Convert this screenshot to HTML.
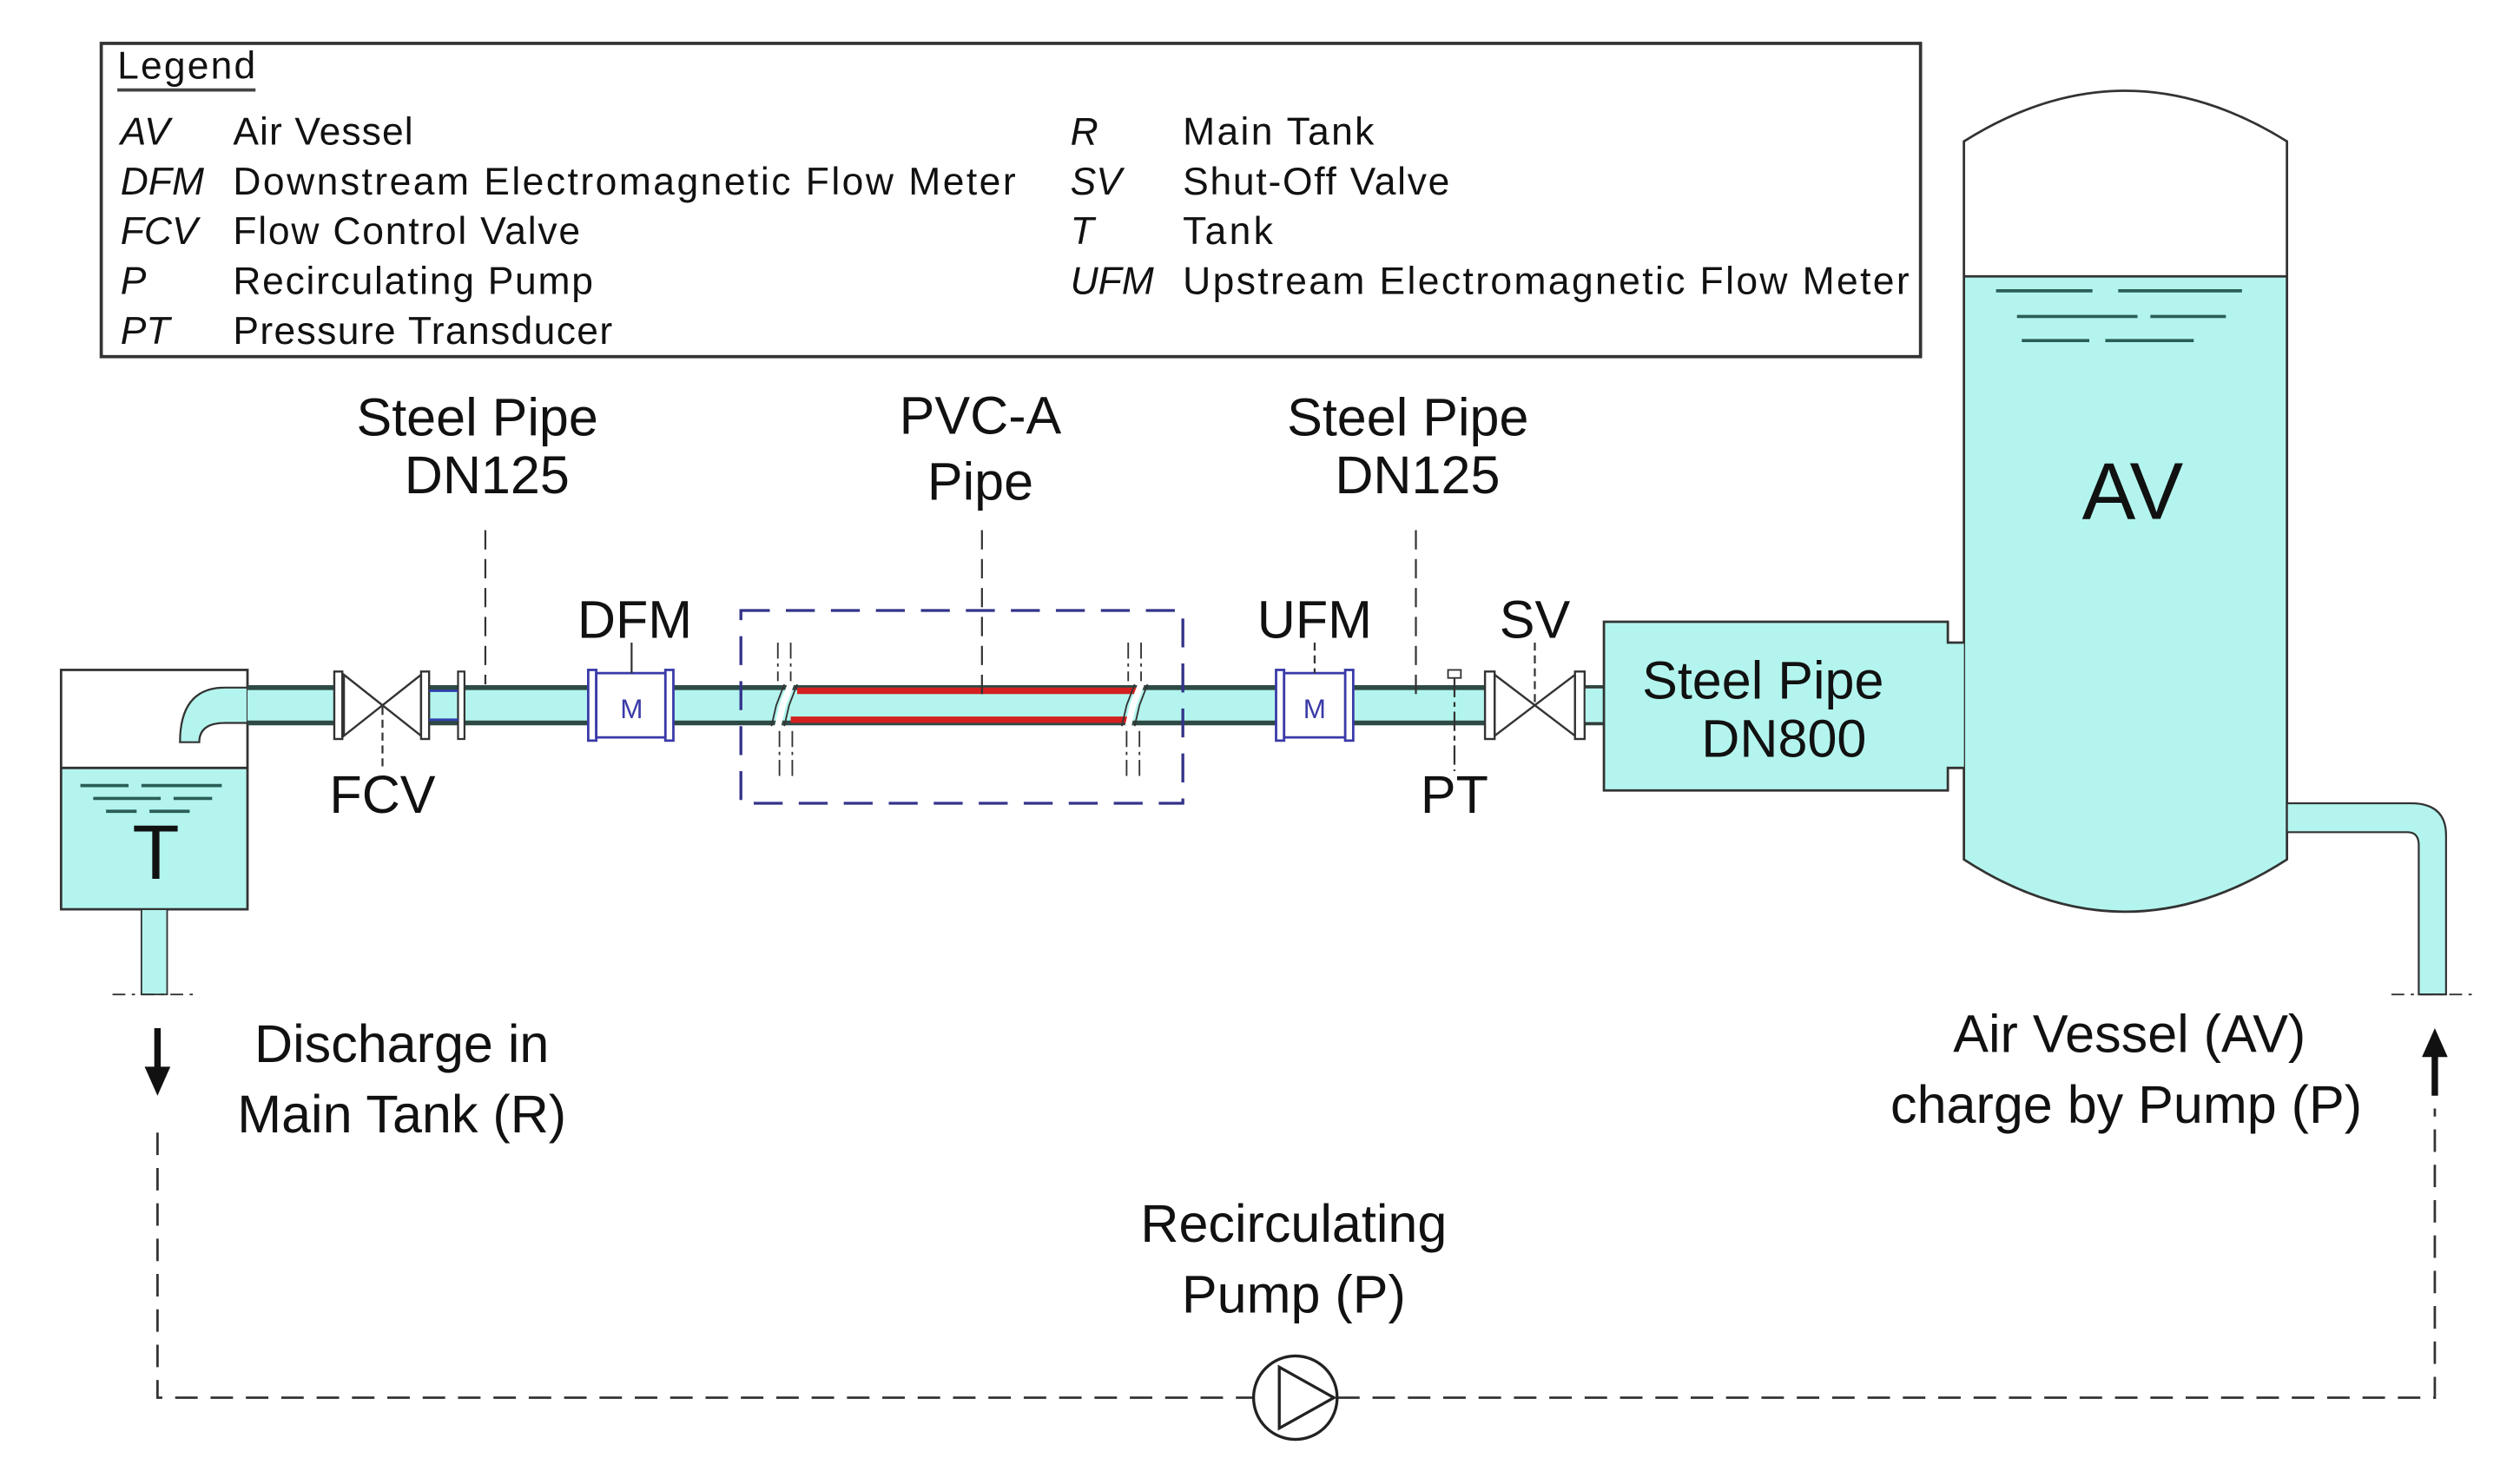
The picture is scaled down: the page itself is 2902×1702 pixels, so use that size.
<!DOCTYPE html>
<html><head><meta charset="utf-8"><style>html,body{margin:0;padding:0;background:#fff}svg{display:block}</style></head>
<body>
<svg width="2902" height="1702" viewBox="0 0 1568 920" preserveAspectRatio="none" xmlns="http://www.w3.org/2000/svg" font-family="Liberation Sans, sans-serif">
<rect width="1568" height="920" fill="#fff"/>
<!-- Legend -->
<rect x="63" y="27" width="1132" height="195" fill="#fff" stroke="#333" stroke-width="2"/>
<g font-size="24" fill="#111">
<text x="73" y="49" textLength="86">Legend</text>
<line x1="73" y1="56" x2="159" y2="56" stroke="#444" stroke-width="2"/>
<g font-style="italic">
<text x="75" y="90">AV</text><text x="75" y="121">DFM</text><text x="75" y="152">FCV</text><text x="75" y="183">P</text><text x="75" y="214">PT</text>
<text x="666" y="90">R</text><text x="666" y="121">SV</text><text x="666" y="152">T</text><text x="666" y="183">UFM</text>
</g>
<text x="145" y="90" textLength="112">Air Vessel</text>
<text x="145" y="121" textLength="487">Downstream Electromagnetic Flow Meter</text>
<text x="145" y="152" textLength="216">Flow Control Valve</text>
<text x="145" y="183" textLength="224">Recirculating Pump</text>
<text x="145" y="214" textLength="236">Pressure Transducer</text>
<text x="736" y="90" textLength="119">Main Tank</text>
<text x="736" y="121" textLength="166">Shut-Off Valve</text>
<text x="736" y="152" textLength="56">Tank</text>
<text x="736" y="183" textLength="452">Upstream Electromagnetic Flow Meter</text>
</g>

<!-- Tank T -->
<rect x="38" y="478" width="116" height="88" fill="#b3f5ee"/>
<rect x="38" y="417" width="116" height="149" fill="none" stroke="#333" stroke-width="1.5"/>
<line x1="38" y1="478" x2="154" y2="478" stroke="#333" stroke-width="1.5"/>
<g stroke="#2b5e58" stroke-width="2">
<line x1="50" y1="489" x2="80" y2="489"/><line x1="88" y1="489" x2="138" y2="489"/>
<line x1="58" y1="497" x2="100" y2="497"/><line x1="108" y1="497" x2="132" y2="497"/>
<line x1="66" y1="505" x2="85" y2="505"/><line x1="93" y1="505" x2="118" y2="505"/>
</g>
<text x="97" y="547" font-size="48" text-anchor="middle" fill="#111">T</text>
<rect x="88" y="566" width="16" height="53" fill="#b3f5ee" stroke="#333" stroke-width="1"/>
<line x1="70" y1="619" x2="122" y2="619" stroke="#333" stroke-width="1" stroke-dasharray="8,4,2,4"/>
<path d="M154 428 L140 428 Q112 428 112 462 L124 462 Q124 450 140 450 L154 450 Z" fill="#b3f5ee" stroke="#333" stroke-width="1.2"/>

<!-- main pipe -->
<rect x="154" y="428" width="844" height="22" fill="#b3f5ee"/>
<g stroke="#2e4a45" stroke-width="3">
<line x1="154" y1="428" x2="998" y2="428"/><line x1="154" y1="450" x2="998" y2="450"/>
</g>
<line x1="496" y1="430" x2="708" y2="430" stroke="#d42020" stroke-width="4"/>
<line x1="492" y1="448" x2="702" y2="448" stroke="#d42020" stroke-width="4"/>
<g fill="none" stroke="#fff" stroke-width="4">
<path d="M492 426 L487 439 L484 452"/><path d="M710 426 L705 439 L702 452"/>
</g>
<g fill="none" stroke="#333" stroke-width="1">
<path d="M488 426 L483 439 L480 452"/><path d="M496 426 L491 439 L488 452"/>
<path d="M706 426 L701 439 L698 452"/><path d="M714 426 L709 439 L706 452"/>
</g>
<g stroke="#333" stroke-width="1" stroke-dasharray="10,3,2,3">
<line x1="484" y1="400" x2="484" y2="424"/><line x1="492" y1="400" x2="492" y2="424"/>
<line x1="485" y1="455" x2="485" y2="483"/><line x1="493" y1="455" x2="493" y2="483"/>
<line x1="702" y1="400" x2="702" y2="424"/><line x1="710" y1="400" x2="710" y2="424"/>
<line x1="701" y1="455" x2="701" y2="483"/><line x1="709" y1="455" x2="709" y2="483"/>
</g>
<rect x="461" y="380" width="275" height="120" fill="none" stroke="#33338a" stroke-width="1.8" stroke-dasharray="18,10"/>

<!-- FCV valve -->
<rect x="208" y="418" width="55" height="42" fill="#fff"/>
<g stroke="#333" stroke-width="1.3" fill="#fff">
<path d="M214 420 L262 458 L262 420 L214 458 Z"/>
<rect x="208" y="418" width="5" height="42"/><rect x="262" y="418" width="5" height="42"/>
</g>
<rect x="285" y="418" width="4" height="42" fill="#fff" stroke="#333" stroke-width="1.2"/>
<line x1="267" y1="430" x2="285" y2="430" stroke="#3040b0" stroke-width="1.5"/>
<line x1="267" y1="448" x2="285" y2="448" stroke="#3040b0" stroke-width="1.5"/>

<!-- DFM -->
<g stroke="#3a3aa8" stroke-width="1.5" fill="#fff">
<rect x="366" y="417" width="5" height="44"/><rect x="414" y="417" width="5" height="44"/>
<rect x="371" y="419" width="43" height="40"/>
</g>
<text x="393" y="447" font-size="17" text-anchor="middle" fill="#3a3aa8">M</text>
<line x1="393" y1="400" x2="393" y2="419" stroke="#333" stroke-width="1.2"/>
<!-- UFM -->
<g stroke="#3a3aa8" stroke-width="1.5" fill="#fff">
<rect x="794" y="417" width="5" height="44"/><rect x="837" y="417" width="5" height="44"/>
<rect x="799" y="419" width="38" height="40"/>
</g>
<text x="818" y="447" font-size="17" text-anchor="middle" fill="#3a3aa8">M</text>
<line x1="818" y1="400" x2="818" y2="419" stroke="#333" stroke-width="1.2" stroke-dasharray="5,3"/>

<!-- PT -->
<rect x="901" y="417" width="8" height="5" fill="#fff" stroke="#333" stroke-width="1"/>
<line x1="905" y1="422" x2="905" y2="480" stroke="#333" stroke-width="1.2" stroke-dasharray="12,3,3,3"/>
<!-- SV -->
<rect x="924" y="418" width="62" height="42" fill="#fff"/>
<g stroke="#333" stroke-width="1.3" fill="#fff">
<path d="M930 420 L980 458 L980 420 L930 458 Z"/>
<rect x="924" y="418" width="6" height="42"/><rect x="980" y="418" width="6" height="42"/>
</g>
<rect x="986" y="428" width="12" height="22" fill="#b3f5ee" stroke="#333" stroke-width="1"/>
<line x1="955" y1="400" x2="955" y2="440" stroke="#333" stroke-width="1.2" stroke-dasharray="5,3"/>
<line x1="238" y1="440" x2="238" y2="480" stroke="#333" stroke-width="1.2" stroke-dasharray="5,3"/>

<!-- AV vessel -->
<path d="M1222 88 Q1322 25 1423 88 L1423 535 Q1322 600 1222 535 Z" fill="#fff"/>
<path d="M1222 172 L1423 172 L1423 535 Q1322 600 1222 535 Z" fill="#b3f5ee"/>
<path d="M1222 88 Q1322 25 1423 88 L1423 535 Q1322 600 1222 535 Z" fill="none" stroke="#333" stroke-width="1.5"/>
<line x1="1222" y1="172" x2="1423" y2="172" stroke="#333" stroke-width="1.5"/>
<g stroke="#2b5e58" stroke-width="2">
<line x1="1242" y1="181" x2="1302" y2="181"/><line x1="1318" y1="181" x2="1395" y2="181"/>
<line x1="1255" y1="197" x2="1330" y2="197"/><line x1="1338" y1="197" x2="1385" y2="197"/>
<line x1="1258" y1="212" x2="1300" y2="212"/><line x1="1310" y1="212" x2="1365" y2="212"/>
</g>
<text x="1327" y="323" font-size="50" text-anchor="middle" fill="#111">AV</text>
<path d="M998 387 L1212 387 L1212 400 L1222 400 L1222 478 L1212 478 L1212 492 L998 492 Z" fill="#b3f5ee"/>
<path d="M1222 400 L1212 400 L1212 387 L998 387 L998 492 L1212 492 L1212 478 L1222 478" fill="none" stroke="#333" stroke-width="1.5"/>
<path d="M1423 500 L1500 500 Q1522 500 1522 520 L1522 619 L1505 619 L1505 526 Q1505 518 1498 518 L1423 518 Z" fill="#b3f5ee" stroke="#333" stroke-width="1.2"/>
<line x1="1488" y1="619" x2="1540" y2="619" stroke="#333" stroke-width="1" stroke-dasharray="8,4,2,4"/>

<g stroke="#333" stroke-width="1.2" stroke-dasharray="12,6">
<line x1="302" y1="330" x2="302" y2="426"/>
<line x1="611" y1="330" x2="611" y2="436"/>
<line x1="881" y1="330" x2="881" y2="436"/>
</g>

<g font-size="33" fill="#111" text-anchor="middle">
<text x="297" y="271">Steel Pipe</text><text x="303" y="307">DN125</text>
<text x="610" y="270">PVC-A</text><text x="610" y="311">Pipe</text>
<text x="876" y="271">Steel Pipe</text><text x="882" y="307">DN125</text>
<text x="395" y="397">DFM</text><text x="818" y="397">UFM</text><text x="955" y="397">SV</text>
<text x="238" y="506">FCV</text><text x="905" y="506">PT</text>
<text x="1097" y="435">Steel Pipe</text><text x="1110" y="471">DN800</text>
<text x="250" y="661">Discharge in</text><text x="250" y="705">Main Tank (R)</text>
<text x="1325" y="655">Air Vessel (AV)</text><text x="1323" y="699">charge by Pump (P)</text>
<text x="805" y="773">Recirculating</text><text x="805" y="817">Pump (P)</text>
</g>

<line x1="98" y1="640" x2="98" y2="668" stroke="#111" stroke-width="4"/>
<path d="M90 664 L106 664 L98 682 Z" fill="#111"/>
<line x1="1515" y1="682" x2="1515" y2="654" stroke="#111" stroke-width="4"/>
<path d="M1507 658 L1523 658 L1515 640 Z" fill="#111"/>

<path d="M98 705 L98 870 L780 870 M832 870 L1515 870 L1515 690" fill="none" stroke="#333" stroke-width="1.5" stroke-dasharray="14,8"/>
<circle cx="806" cy="870" r="26" fill="#fff" stroke="#222" stroke-width="1.8"/>
<path d="M796 851 L830 870 L796 889 Z" fill="#fff" stroke="#222" stroke-width="1.8"/>
</svg>
</body></html>
